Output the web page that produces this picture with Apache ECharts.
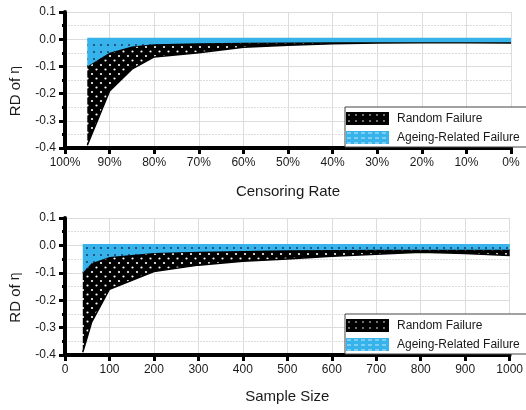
<!DOCTYPE html>
<html><head><meta charset="utf-8">
<script src="https://cdn.jsdelivr.net/npm/echarts@6/dist/echarts.min.js"></script>
<style>html,body{margin:0;padding:0;background:#fff}#c{width:526px;height:410px}</style>
</head><body><div id="c"></div>
<script>
// ---- Data: top chart (censoring rate, %) ----
const censoringRate   = [95, 90, 85, 80, 70, 60, 50, 40, 30, 20, 10, 0];
const censRandomLow   = [-0.39, -0.19, -0.11, -0.065, -0.05, -0.03, -0.022, -0.017, -0.014, -0.013, -0.013, -0.014];
const censRandomHigh  = [-0.10, -0.05, -0.027, -0.019, -0.015, -0.013, -0.012, -0.011, -0.011, -0.011, -0.011, -0.011];
const censAgeingLow   = [-0.10, -0.05, -0.027, -0.019, -0.015, -0.013, -0.012, -0.011, -0.011, -0.011, -0.011, -0.011];
const censAgeingHigh  = [0, 0, 0, 0, 0, 0, 0, 0, 0, 0, 0, 0];
// ---- Data: bottom chart (sample size) ----
const sampleSize      = [40, 60, 100, 200, 300, 400, 500, 600, 700, 800, 900, 1000];
const sampRandomLow   = [-0.39, -0.28, -0.16, -0.095, -0.072, -0.058, -0.05, -0.04, -0.032, -0.025, -0.03, -0.037];
const sampRandomHigh  = [-0.10, -0.065, -0.042, -0.028, -0.023, -0.02, -0.018, -0.017, -0.016, -0.016, -0.016, -0.016];
const sampAgeingLow   = [-0.10, -0.065, -0.042, -0.028, -0.023, -0.02, -0.018, -0.017, -0.016, -0.016, -0.016, -0.016];
const sampAgeingHigh  = [0, 0, 0, 0, 0, 0, 0, 0, 0, 0, 0, 0];
// ---- Labels ----
const seriesNames = ['Random Failure', 'Ageing-Related Failure'];
const xTitleTop = 'Censoring Rate';
const xTitleBottom = 'Sample Size';

const BLUE = '#36b3ea';
function dotPattern(bg, dot, w, h, pts, r) {
  const c = document.createElement('canvas');
  c.width = w; c.height = h;
  const g = c.getContext('2d');
  g.fillStyle = bg; g.fillRect(0, 0, w, h);
  g.fillStyle = dot;
  pts.forEach(p => { g.beginPath(); g.arc(p[0], p[1], r, 0, Math.PI * 2); g.fill(); });
  return { image: c, repeat: 'repeat' };
}
const blackFill = dotPattern('#000', '#fff', 9, 9, [[2, 2], [6.5, 6.5]], 1.1);
const blueFill = dotPattern(BLUE, '#1d2b55', 7, 7, [[3, 3]], 0.9);
const blackLegend = dotPattern('#000', '#fff', 7, 6, [[3, 3]], 0.8);
const blueLegend = dotPattern(BLUE, '#fff', 7, 5, [[2, 2], [4, 2]], 0.7);

// A filled band between low and high, drawn as one polygon through the axes' scales
function band(name, xs, low, high, gi, fill, edges) {
  return {
    type: 'custom', name: name, coordinateSystem: 'cartesian2d',
    xAxisIndex: gi, yAxisIndex: gi, silent: true, clip: true,
    itemStyle: { color: fill },
    data: xs.map((x, i) => [x, low[i], high[i]]),
    encode: { x: 0, y: [1, 2] },
    renderItem: function (params, api) {
      if (params.dataIndex !== 0) return null;
      const top = xs.map((x, i) => api.coord([x, high[i]]));
      const bot = xs.map((x, i) => api.coord([x, low[i]]));
      const poly = top.concat(bot.slice().reverse());
      const children = [{ type: 'polygon', shape: { points: poly }, style: { fill: fill } }];
      edges.forEach(e => {
        children.push({ type: 'polyline', shape: { points: e.which === 'top' ? top : bot },
          style: { stroke: e.color, lineWidth: e.width, fill: null, lineJoin: 'round' } });
      });
      return { type: 'group', children: children };
    }
  };
}

const font = "'Liberation Sans', Arial, sans-serif";
function yAxis(gi) {
  return {
    type: 'value', gridIndex: gi, min: -0.4, max: 0.1, interval: 0.1,
    name: 'RD of {e|η}', nameLocation: 'middle', nameGap: 42,
    nameTextStyle: { fontSize: 15, color: '#1a1a1a', fontFamily: font, padding: [0, 22, 0, 0],
      rich: { e: { fontSize: 14, color: '#1a1a1a', fontFamily: font } } },
    axisLine: { show: true, onZero: false, lineStyle: { color: '#000', width: 4 } },
    axisTick: { show: true, length: 6, lineStyle: { color: '#000', width: 3 } },
    minorTick: { show: true, splitNumber: 2, length: 3, lineStyle: { color: '#000', width: 3 } },
    axisLabel: { fontSize: 12, color: '#1a1a1a', fontFamily: font, margin: 9,
      formatter: v => v.toFixed(1) },
    splitLine: { show: true, lineStyle: { color: '#dcdcdc', width: 1 } },
    minorSplitLine: { show: true, lineStyle: { color: '#dcdcdc', width: 1, type: [2, 1] } }
  };
}
function xAxis(gi, opts) {
  return Object.assign({
    type: 'value', gridIndex: gi, nameLocation: 'middle',
    nameTextStyle: { fontSize: 15, color: '#1a1a1a', fontFamily: font },
    axisLine: { show: true, onZero: false, lineStyle: { color: '#000', width: 4 } },
    axisTick: { show: true, length: 6, lineStyle: { color: '#000', width: 3 } },
    splitLine: { show: true, lineStyle: { color: '#dcdcdc', width: 1 } }
  }, opts);
}
function legend(top) {
  return {
    orient: 'vertical', left: 345, top: top,
    backgroundColor: '#fff', borderColor: '#444', borderWidth: 1,
    padding: [5, 30, 3, 1], itemGap: 6, itemWidth: 43, itemHeight: 13,
    textStyle: { fontSize: 12, color: '#1a1a1a', fontFamily: font, padding: [0, 0, 0, 3] },
    data: [
      { name: seriesNames[0], icon: 'rect', itemStyle: { color: blackLegend } },
      { name: seriesNames[1], icon: 'rect', itemStyle: { color: blueLegend } }
    ]
  };
}

const chart = echarts.init(document.getElementById('c'), null, { renderer: 'canvas' });
chart.setOption({
  animation: false,
  backgroundColor: '#fff',
  grid: [
    { left: 65, top: 12, width: 446, height: 136 },
    { left: 65, top: 218, width: 446, height: 137 }
  ],
  xAxis: [
    xAxis(0, { min: 0, max: 100, interval: 10, inverse: true, name: xTitleTop, nameGap: 36,
      axisLabel: { fontSize: 12, color: '#1a1a1a', fontFamily: font, margin: 9, formatter: '{value}%' } }),
    xAxis(1, { min: 0, max: 1000, interval: 100, name: xTitleBottom, nameGap: 34,
      axisLabel: { fontSize: 12, color: '#1a1a1a', fontFamily: font, margin: 9, formatter: v => String(v) } })
  ],
  yAxis: [yAxis(0), yAxis(1)],
  legend: [legend(107), legend(314)],
  series: [
    band(seriesNames[0], censoringRate, censRandomLow, censRandomHigh, 0, blackFill,
      [{ which: 'bot', color: '#000', width: 1.5 }, { which: 'top', color: '#000', width: 1.5 }]),
    band(seriesNames[1], censoringRate, censAgeingLow, censAgeingHigh, 0, blueFill,
      [{ which: 'top', color: BLUE, width: 3 }]),
    band(seriesNames[0], sampleSize, sampRandomLow, sampRandomHigh, 1, blackFill,
      [{ which: 'bot', color: '#000', width: 1.5 }, { which: 'top', color: '#000', width: 1.5 }]),
    band(seriesNames[1], sampleSize, sampAgeingLow, sampAgeingHigh, 1, blueFill,
      [{ which: 'top', color: BLUE, width: 3 }])
  ]
});
</script>
</body></html>
